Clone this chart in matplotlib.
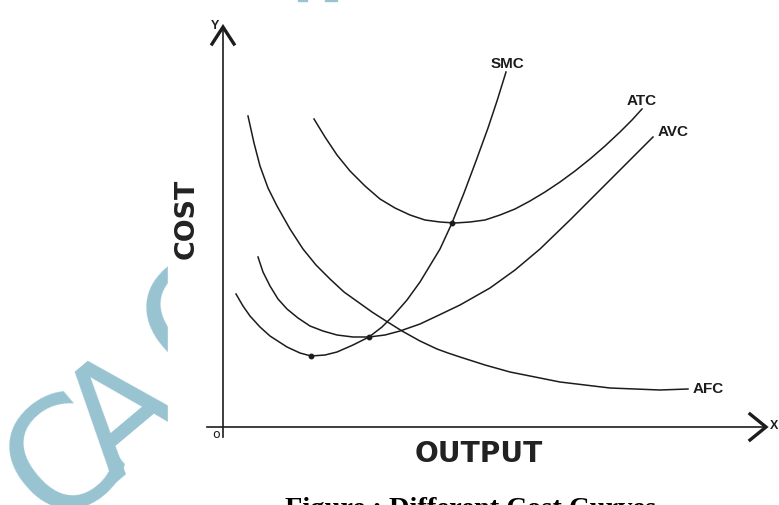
import matplotlib
matplotlib.use("Agg")
import matplotlib.pyplot as plt
from matplotlib.patches import Rectangle

# ---- data (output, cost) ----
smc_x = [13, 20, 27, 37, 47, 64, 77, 88, 102, 114, 130, 146, 159, 170, 184, 197, 217, 229, 241, 253, 265, 274, 283]
smc_y = [133, 121, 111, 100, 91, 80, 74, 71, 72, 75, 82, 90, 100, 111, 127, 145, 178, 204, 234, 266, 299, 326, 355]

avc_x = [35, 40, 47, 55, 64, 75, 87, 100, 114, 130, 146, 162, 177, 197, 214, 237, 267, 292, 317, 347, 377, 405, 430]
avc_y = [170, 155, 141, 128, 118, 109, 101, 96, 92, 90, 90, 92, 96, 103, 111, 122, 139, 157, 178, 207, 237, 265, 290]

atc_x = [91, 102, 114, 127, 142, 157, 172, 187, 202, 217, 232, 247, 262, 277, 292, 307, 322, 337, 352, 367, 382, 397, 409, 419]
atc_y = [308, 290, 272, 256, 241, 228, 219, 212, 207, 205, 204, 205, 207, 212, 218, 226, 235, 245, 256, 268, 281, 295, 307, 318]

afc_x = [25, 31, 37, 45, 54, 67, 80, 93, 107, 121, 135, 149, 163, 171, 179, 197, 214, 225, 237, 262, 287, 312, 337, 362, 387, 412, 437, 465]
afc_y = [311, 284, 261, 239, 221, 198, 178, 162, 148, 135, 125, 115, 106, 101, 96, 86, 78, 74, 70, 62, 55, 50, 45, 42, 39, 38, 37, 38]

dot_x = [88, 146, 229]
dot_y = [71, 90, 204]

curve_labels = ["SMC", "ATC", "AVC", "AFC"]

INK = "#1c1c1c"
WM = "#98c3d1"

fig = plt.figure(figsize=(7.79, 5.06), dpi=100)
ax = fig.add_axes([0, 0, 1, 1])
ax.set_xlim(-223, 556)
ax.set_ylim(-78, 428)
ax.axis("off")

# ---- watermark ----
wm_font = dict(color=WM, fontsize=110, family="DejaVu Sans", rotation=40,
               ha="center", va="center", rotation_mode="anchor", zorder=1)
ax.text(-156, -34, "C", **wm_font)
ax.text(-97, 10, "A", **wm_font)
ax.text(-19, 105, "C", **wm_font)
ax.add_patch(Rectangle((-55, -80), 620, 505, color="white", zorder=2))
ax.add_patch(Rectangle((75, 426), 9, 4, color=WM, zorder=2, clip_on=False))
ax.add_patch(Rectangle((102, 426), 12, 4, color=WM, zorder=2, clip_on=False))

# ---- axes ----
ax.plot([0, 0], [-10, 397], color=INK, lw=1.2, zorder=3)
ax.plot([-16, 540], [0, 0], color=INK, lw=1.2, zorder=3)
ax.plot([-11, 0, 11], [383, 400, 383], color=INK, lw=2.4, zorder=3,
        solid_joinstyle="miter")
ax.plot([527, 543, 527], [13, 0, -13], color=INK, lw=2.4, zorder=3,
        solid_joinstyle="miter")

# ---- curves ----
for xs, ys in [(smc_x, smc_y), (avc_x, avc_y), (atc_x, atc_y), (afc_x, afc_y)]:
    ax.plot(xs, ys, color=INK, lw=1.1, zorder=4, solid_joinstyle="round")
ax.plot(dot_x, dot_y, "o", color=INK, ms=3.2, zorder=5)

lab = dict(family="Liberation Sans", fontweight="bold", color=INK, zorder=6)
label_pos = [(284, 364), (419, 327), (450, 296), (485, 39)]
for name, (lx, ly) in zip(curve_labels, label_pos):
    ax.text(lx, ly, name, fontsize=11, ha="center", va="center", **lab)

ax.text(-8, 402, "Y", fontsize=9, ha="center", va="center", **lab)
ax.text(551, 2, "X", fontsize=9, ha="center", va="center", **lab)
ax.text(-7, -7, "o", fontsize=9, ha="center", va="center",
        family="DejaVu Sans", color=INK, zorder=6)

heavy = dict(family="DejaVu Sans", fontweight="bold", color="#222222", zorder=6)
ax.text(-36, 209, "COST", fontsize=19.4, rotation=90, ha="center", va="center", **heavy)
ax.text(256, -26, "OUTPUT", fontsize=20.2, ha="center", va="center", **heavy)

ax.text(62, -88, "Figure : Different Cost Curves", fontsize=20.5,
        family="Liberation Serif", fontweight="bold", color="black",
        ha="left", va="baseline", zorder=6)

fig.savefig("out.png", dpi=100)
